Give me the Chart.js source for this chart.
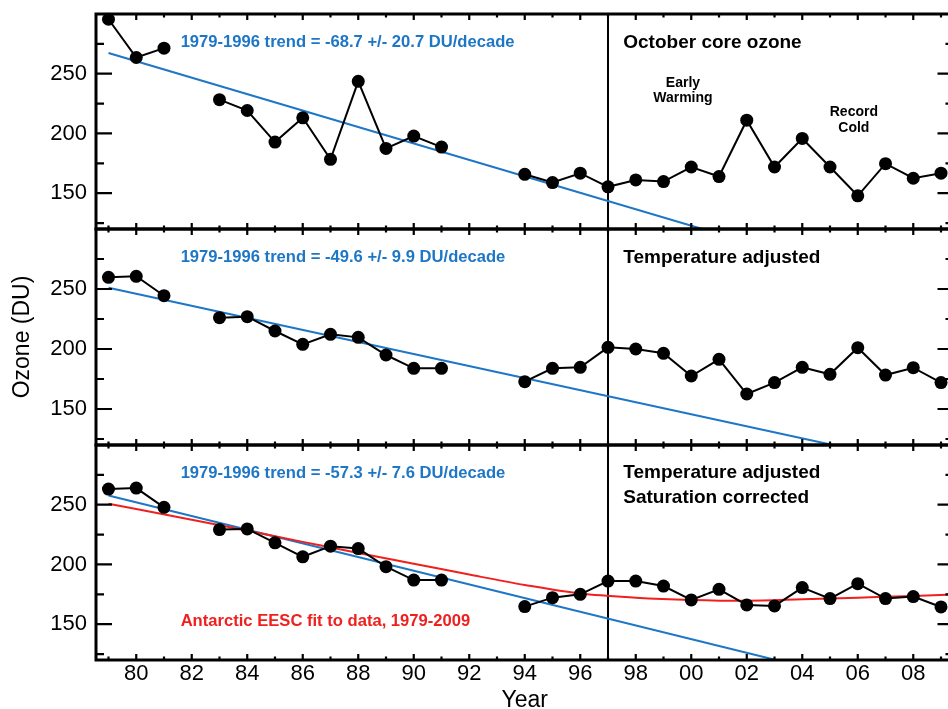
<!DOCTYPE html>
<html lang="en">
<head>
<meta charset="UTF-8" />
<title>October core ozone</title>
<script src="https://cdn.jsdelivr.net/npm/chart.js"></script>
<style>
  * { margin: 0; padding: 0; box-sizing: border-box; }
  html, body { width: 948px; height: 709px; overflow: hidden; background: #ffffff; }
  .figure { position: relative; width: 948px; height: 709px; overflow: hidden; }
  .figure canvas { position: absolute; left: 0; }
</style>
</head>
<body>
<div class="figure">
  <canvas id="panelTop" width="960" height="240" style="top:0px"></canvas>
  <canvas id="panelMid" width="960" height="240" style="top:220px"></canvas>
  <canvas id="panelBot" width="960" height="280" style="top:436px"></canvas>
</div>
<script>
// Years and ozone series (null = no data that year)
const years = [1979, 1980, 1981, 1982, 1983, 1984, 1985, 1986, 1987, 1988, 1989, 1990, 1991, 1992, 1993,
  1994, 1995, 1996, 1997, 1998, 1999, 2000, 2001, 2002, 2003, 2004, 2005, 2006, 2007, 2008, 2009];
const ozoneCore = [295.6, 263.6, 271.4, null, 228.3, 219.2, 192.8, 213.1, 178.3, 243.6, 187.5, 197.8, 188.6, null, null,
  165.8, 158.9, 166.7, 155.3, 161.1, 159.7, 171.9, 163.9, 211.1, 171.9, 195.8, 171.9, 147.8, 174.7, 162.5, 166.7];
const ozoneTempAdj = [259.7, 260.6, 244.4, null, 226.1, 226.9, 215.0, 203.9, 212.2, 209.7, 195.0, 183.9, 183.9, null, null,
  172.8, 183.9, 184.7, 201.4, 200.0, 196.4, 177.5, 191.4, 162.5, 172.0, 184.7, 178.9, 201.1, 178.3, 184.4, 172.0];
const ozoneSatCorr = [263.1, 263.9, 247.8, null, 229.2, 229.7, 218.1, 206.4, 215.3, 213.3, 198.1, 186.9, 186.9, null, null,
  164.7, 172.2, 175.0, 186.1, 186.1, 181.9, 170.3, 179.2, 166.1, 165.3, 180.6, 171.4, 183.9, 171.4, 173.1, 164.4];

// 1979-1996 trend lines (start value, and where they leave the panel)
const trendCoreYears = [1979, 2000.4];
const trendCoreVals = [267.3, 120];
const trendTempYears = [1979, 2005.1];
const trendTempVals = [251.1, 120];
const trendSatYears = [1979, 2003.05];
const trendSatVals = [257.8, 120];

// Antarctic EESC fit (bottom panel)
const eescYears = [1979, 1982, 1984, 1986, 1988, 1990, 1992, 1994, 1996, 1998, 2000, 2002, 2004, 2006, 2008, 2009.45];
const eescVals = [250.8, 237.5, 228.2, 218.9, 209.6, 200.6, 191.5, 182.8, 175.6, 172.2, 170.3, 169.6, 170.8, 172.2, 173.6, 174.9];

const dividerYear = 1997;
const xLabelYears = [1980, 1982, 1984, 1986, 1988, 1990, 1992, 1994, 1996, 1998, 2000, 2002, 2004, 2006, 2008];
const yLabelTicks = [150, 200, 250];
const yMinorTicks = [125, 175, 225, 275];
const yMin = 120, yMax = 300;
const xMin = 1978.55, xMax = 2009.45;

const BLUE = '#1d76c6';
const RED = '#f0201e';
const FONT = '"Liberation Sans", Arial, Helvetica, sans-serif';

const toPoints = (xs, ys) => xs.map((v, i) => ({ x: v, y: ys[i] }));

// frame, inward ticks and text notes
const framePlugin = {
  id: 'frame',
  afterDatasetsDraw(chart, args, opts) {
    const { ctx, chartArea: a, scales: { x, y } } = chart;
    ctx.save();
    ctx.strokeStyle = '#000';
    ctx.lineWidth = 2.2;
    ctx.beginPath();
    years.forEach(yr => {
      const px = x.getPixelForValue(yr);
      const len = yr % 2 === 0 ? 6 : 3.5;
      ctx.moveTo(px, a.top); ctx.lineTo(px, a.top + len);
      ctx.moveTo(px, a.bottom); ctx.lineTo(px, a.bottom - len);
    });
    yLabelTicks.forEach(v => {
      const py = y.getPixelForValue(v);
      ctx.moveTo(a.left, py); ctx.lineTo(a.left + 16, py);
      ctx.moveTo(a.right, py); ctx.lineTo(a.right - 16, py);
    });
    yMinorTicks.forEach(v => {
      const py = y.getPixelForValue(v);
      ctx.moveTo(a.left, py); ctx.lineTo(a.left + 8, py);
      ctx.moveTo(a.right, py); ctx.lineTo(a.right - 8, py);
    });
    ctx.stroke();
    ctx.lineWidth = 3;
    ctx.strokeRect(a.left, a.top, a.right - a.left, a.bottom - a.top);

    (opts.notes || []).forEach(n => {
      ctx.font = n.font + ' ' + FONT;
      ctx.fillStyle = n.color || '#000';
      ctx.textAlign = n.align || 'left';
      ctx.textBaseline = 'middle';
      ctx.fillText(n.text, x.getPixelForValue(n.year), y.getPixelForValue(n.value));
    });
    ctx.restore();
  }
};

function makePanel(id, values, trendYears, trendVals, cfg) {
  const datasets = [{
    data: toPoints(years, values),
    borderColor: '#000',
    borderWidth: 2,
    pointRadius: 6.5,
    pointBackgroundColor: '#000',
    pointBorderWidth: 0,
    spanGaps: false,
    clip: false
  }];
  if (cfg.eesc) {
    datasets.push({
      data: toPoints(eescYears, eescVals),
      borderColor: RED,
      borderWidth: 2,
      pointRadius: 0,
      cubicInterpolationMode: 'monotone'
    });
  }
  datasets.push({
    data: toPoints(trendYears, trendVals),
    borderColor: BLUE,
    borderWidth: 2,
    pointRadius: 0
  });
  datasets.push({
    data: [{ x: dividerYear, y: yMin }, { x: dividerYear, y: yMax }],
    borderColor: '#000',
    borderWidth: 2,
    pointRadius: 0
  });

  return new Chart(document.getElementById(id), {
    type: 'line',
    data: { datasets },
    options: {
      responsive: false,
      animation: false,
      events: [],
      layout: { padding: cfg.padding },
      plugins: {
        legend: { display: false },
        tooltip: { enabled: false },
        frame: { notes: cfg.notes }
      },
      scales: {
        x: {
          type: 'linear',
          min: xMin,
          max: xMax,
          display: !!cfg.showX,
          grid: { display: false, drawTicks: false },
          border: { display: false },
          afterBuildTicks: s => { s.ticks = xLabelYears.map(v => ({ value: v })); },
          afterFit: s => { s.height = cfg.xHeight || 0; s.paddingLeft = 0; s.paddingRight = 0; },
          ticks: {
            autoSkip: false,
            maxRotation: 0,
            padding: 1,
            color: '#000',
            font: { family: FONT, size: 22 },
            callback: v => String(v % 100).padStart(2, '0')
          },
          title: {
            display: !!cfg.showX,
            text: 'Year',
            color: '#000',
            font: { family: FONT, size: 23 },
            padding: { top: 0, bottom: 2 }
          }
        },
        y: {
          type: 'linear',
          min: yMin,
          max: yMax,
          grid: { display: false, drawTicks: false },
          border: { display: false },
          afterBuildTicks: s => { s.ticks = yLabelTicks.map(v => ({ value: v })); },
          afterFit: s => { s.width = 96; s.paddingTop = 0; s.paddingBottom = 0; },
          ticks: {
            padding: 9,
            color: '#000',
            font: { family: FONT, size: 22 }
          },
          title: {
            display: !!cfg.showYTitle,
            text: 'Ozone (DU)',
            color: '#000',
            font: { family: FONT, size: 23 },
            padding: { top: 9, bottom: 0 }
          }
        }
      }
    },
    plugins: [framePlugin]
  });
}

const trendNote = (text) => ({ text, year: 1981.6, value: 276, font: 'bold 16.6px', color: BLUE });

makePanel('panelTop', ozoneCore, trendCoreYears, trendCoreVals, {
  padding: { top: 14, bottom: 11, left: 0, right: 6 },
  notes: [
    trendNote('1979-1996 trend = -68.7 +/- 20.7 DU/decade'),
    { text: 'October core ozone', year: 1997.55, value: 276, font: 'bold 19px' },
    { text: 'Early', year: 1999.7, value: 242.5, font: 'bold 14px', align: 'center' },
    { text: 'Warming', year: 1999.7, value: 229.2, font: 'bold 14px', align: 'center' },
    { text: 'Record', year: 2005.86, value: 217.5, font: 'bold 14px', align: 'center' },
    { text: 'Cold', year: 2005.86, value: 204.2, font: 'bold 14px', align: 'center' }
  ]
});

makePanel('panelMid', ozoneTempAdj, trendTempYears, trendTempVals, {
  padding: { top: 9, bottom: 15, left: 0, right: 6 },
  showYTitle: true,
  notes: [
    trendNote('1979-1996 trend = -49.6 +/- 9.9 DU/decade'),
    { text: 'Temperature adjusted', year: 1997.55, value: 276, font: 'bold 19px' }
  ]
});

makePanel('panelBot', ozoneSatCorr, trendSatYears, trendSatVals, {
  padding: { top: 9, bottom: 0, left: 0, right: 6 },
  showX: true,
  xHeight: 56,
  eesc: true,
  notes: [
    trendNote('1979-1996 trend = -57.3 +/- 7.6 DU/decade'),
    { text: 'Temperature adjusted', year: 1997.55, value: 276.9, font: 'bold 19px' },
    { text: 'Saturation corrected', year: 1997.55, value: 255.6, font: 'bold 19px' },
    { text: 'Antarctic EESC fit to data, 1979-2009', year: 1981.6, value: 151.9, font: 'bold 16.6px', color: RED }
  ]
});
</script>
</body>
</html>
